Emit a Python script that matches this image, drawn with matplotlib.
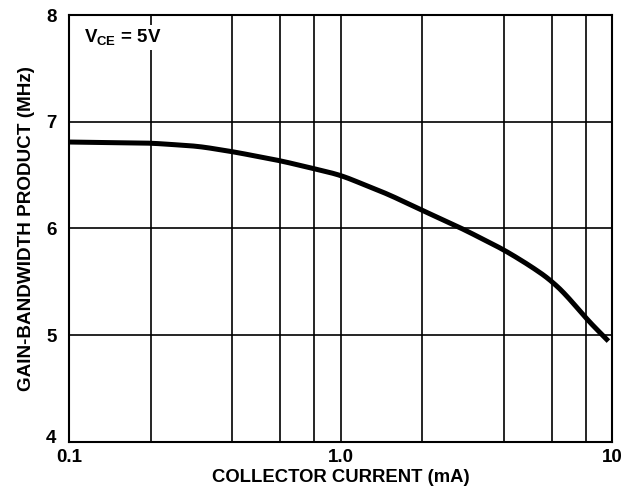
import numpy as np
import matplotlib
matplotlib.use("Agg")
import matplotlib.pyplot as plt
import matplotlib.transforms as mtransforms

plt.rcParams['font.family'] = ['Liberation Sans', 'DejaVu Sans']
plt.rcParams['font.weight'] = 'bold'
plt.rcParams['mathtext.fontset'] = 'custom'
plt.rcParams['mathtext.rm'] = 'Liberation Sans:bold'
plt.rcParams['mathtext.it'] = 'Liberation Sans:bold'
plt.rcParams['mathtext.bf'] = 'Liberation Sans:bold'

# gain-bandwidth product vs collector current
ic_ma = [0.1, 0.2, 0.3, 0.4, 0.6, 0.8, 1.0, 1.5, 2.0, 2.8, 4.0, 5.0, 6.0, 7.0, 8.0, 9.7]
gbw_mhz = [6.81, 6.80, 6.77, 6.72, 6.635, 6.56, 6.50, 6.32, 6.17, 6.00, 5.80, 5.65, 5.51, 5.34, 5.16, 4.945]

xgrid = [0.1, 0.2, 0.4, 0.6, 0.8, 1.0, 2.0, 4.0, 6.0, 8.0, 10.0]
ygrid = [4, 5, 6, 7, 8]
xlabels = {0.1: '0.1', 1.0: '1.0', 10.0: '10'}

fig = plt.figure(figsize=(6.35, 4.98), dpi=100)
ax = fig.add_axes([69/635, 1 - 442/498, (612-69)/635, (442-15)/498])

# interpolate in log-x and lightly smooth the corners
lx = np.log10(ic_ma)
xs = np.linspace(lx[0], lx[-1], 400)
ys = np.interp(xs, lx, gbw_mhz)
k = 8
ys_s = np.convolve(np.pad(ys, k, mode='reflect', reflect_type='odd'),
                   np.ones(2*k+1)/(2*k+1), mode='same')[k:-k]
ax.plot(10**xs, ys_s, color='black', lw=3.6, solid_capstyle='butt', zorder=3)

ax.set_xscale('log')
ax.set_xlim(0.1, 10)
ax.set_ylim(4, 8)
for gx in xgrid:
    ax.axvline(gx, color='black', lw=1.2, zorder=1)
for gy in ygrid:
    ax.axhline(gy, color='black', lw=1.2, zorder=1)

ax.set_xticks(list(xlabels.keys()))
ax.set_xticklabels(list(xlabels.values()))
ax.set_xticks([], minor=True)
ax.set_yticks(ygrid)
ax.tick_params(length=0, labelsize=13.5)
ax.tick_params(axis='x', pad=5)
ax.tick_params(axis='y', pad=9)
for s in ax.spines.values():
    s.set_linewidth(1.5)

# lift the bottom "4" a little so it clears the 0.1 label
lbl4 = ax.get_yticklabels()[0]
lbl4.set_transform(lbl4.get_transform() +
                   mtransforms.ScaledTranslation(0, 4/72, fig.dpi_scale_trans))

ax.set_xlabel('COLLECTOR CURRENT (mA)', fontsize=13.3, fontweight='bold', labelpad=2)
ax.set_ylabel('GAIN-BANDWIDTH PRODUCT (MHz)', fontsize=13.6, fontweight='bold', labelpad=8)

ax.text(0.1135, 7.79, '$V_{CE}$ = 5V', fontsize=13.5, fontweight='bold', va='center', ha='left',
        bbox=dict(facecolor='white', edgecolor='none', pad=2), zorder=4)

fig.savefig('out.png', dpi=100)
